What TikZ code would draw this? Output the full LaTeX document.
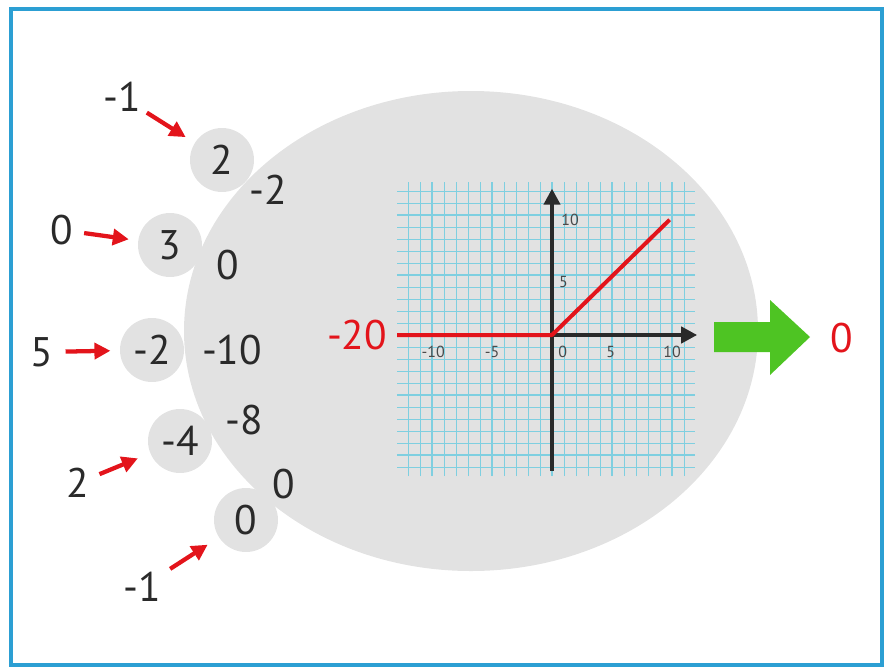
\documentclass[tikz,border=0pt]{standalone}
\usepackage{fontspec}
\setmainfont{PT Sans}
\usetikzlibrary{arrows.meta}
\definecolor{frameblue}{HTML}{2C9FD3}
\definecolor{blobgray}{HTML}{E2E2E2}
\definecolor{gridcyan}{HTML}{7FCFE0}
\definecolor{myred}{HTML}{E3141B}
\definecolor{mygreen}{HTML}{4EC423}
\definecolor{txt}{HTML}{2A2A2A}
\tikzset{
  big/.style={font=\fontsize{31}{31}\selectfont, text=txt, inner sep=1pt},
  neuron/.style={circle, fill=blobgray, minimum size=48pt, inner sep=0pt, font=\fontsize{31}{31}\selectfont, text=txt},
  inarrow/.style={draw=myred, line width=3.2pt, -{Triangle[length=12pt,width=12pt]}},
  ticklab/.style={font=\fontsize{12}{12}\selectfont, text=txt!85, inner sep=0pt},
  axisline/.style={txt, line width=3pt, -{Triangle[length=12pt,width=12pt]}},
}
\begin{document}
\begin{tikzpicture}[x=0.75pt,y=-0.75pt]
\useasboundingbox (0,0) rectangle (887,667);
\draw[frameblue, line width=2.4pt] (11,9) rectangle (882,665);
% big cell body
\fill[blobgray] (471,331) ellipse [x radius=287, y radius=240];
% input neurons
\node[neuron] (c1) at (222,160) {2};
\node[neuron] (c2) at (170,245) {3};
\node[neuron] (c3) at (152,350) {-2};
\node[neuron] (c4) at (180,441) {-4};
\node[neuron] (c5) at (246,520) {0};
% inputs
\node[big] (i1) at (122,97) {-1};
\node[big] (i2) at (62,230) {0};
\node[big] (i3) at (42,352) {5};
\node[big] (i4) at (78,483) {2};
\node[big] (i5) at (142,587) {-1};
% products
\node[big] (p1) at (268,190) {-2};
\node[big] (p2) at (228,265) {0};
\node[big] (p3) at (232,350) {-10};
\node[big] (p4) at (244,420) {-8};
\node[big] (p5) at (284,484) {0};
% input arrows
\draw[inarrow, shorten <=4pt, shorten >=8pt] (i1) -- (c1);
\draw[inarrow, shorten <=7pt, shorten >=7pt] (i2) -- (c2);
\draw[inarrow, shorten <=8pt, shorten >=7pt] (i3) -- (c3);
\draw[inarrow, shorten <=7pt, shorten >=10pt] (i4) -- (c4);
\draw[inarrow, shorten <=7pt, shorten >=10pt] (i5) -- (c5);
% graph
\begin{scope}[shift={(552,335)}, x=9pt, y=9pt]
  \draw[gridcyan, line width=0.6pt, step=1] (-12.9,-11.75) grid (11.9,12.75);
  \draw[gridcyan, line width=0.8pt, step=5] (-12.9,-11.75) grid (11.9,12.75);
  \coordinate (o) at (0,0);
  \coordinate (xe) at (12.1,0);
  \coordinate (ys) at (0,-11.3);
  \coordinate (ye) at (0,12.2);
  \coordinate (xl) at (-12.9,0);
  \coordinate (r) at (9.8,9.6);
  \draw[axisline] (o) -- (xe);
  \draw[axisline] (ys) -- (ye);
  \draw[myred, line width=3pt, line join=round] (xl) -- (o) -- (r);
  \node[ticklab] (tm10) at (-9.9,-1.4) {-10};
  \node[ticklab] (tm5) at (-5,-1.4) {-5};
  \node[ticklab] (t0) at (0.9,-1.4) {0};
  \node[ticklab] (t5) at (4.9,-1.4) {5};
  \node[ticklab] (t10) at (10,-1.4) {10};
  \node[ticklab] (ty10) at (1.5,9.6) {10};
  \node[ticklab] (ty5) at (0.95,4.4) {5};
\end{scope}
\node[big, text=myred] (in) at (357,335) {-20};
% output arrow
\fill[mygreen] (714,322) -- (770,322) -- (770,300) -- (810,337) -- (770,375) -- (770,352) -- (714,352) -- cycle;
\node[big, text=myred] (out) at (842,338) {0};
\end{tikzpicture}
\end{document}
